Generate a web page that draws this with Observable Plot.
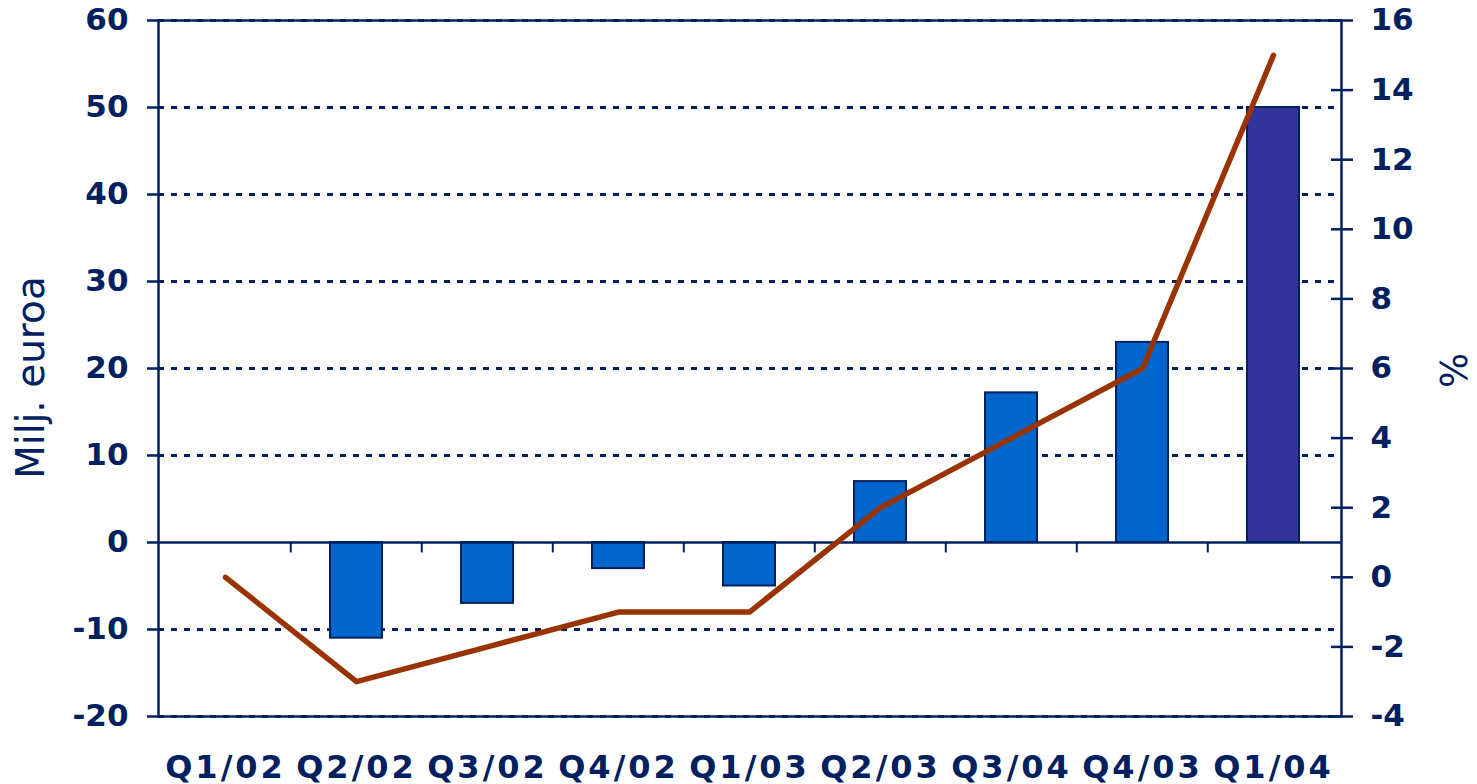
<!DOCTYPE html>
<html><head><meta charset="utf-8">
<script src="https://cdn.jsdelivr.net/npm/d3@7"></script>
<script src="https://cdn.jsdelivr.net/npm/@observablehq/plot@0.6"></script>
<style>
body{margin:0;background:#fff}
svg{font-family:"DejaVu Sans"}
g[aria-label="x-axis tick label"] text{letter-spacing:3px}
</style>
</head><body><div id="chart"></div>
<script>
const quarters = ["Q1/02","Q2/02","Q3/02","Q4/02","Q1/03","Q2/03","Q3/04","Q4/03","Q1/04"];
const barValues = [0,-11,-7,-3,-5,7,17.2,23,50];
const lineValues = [0,-3,-2,-1,-1,2,4,6,15];
const leftTicks = [-20,-10,0,10,20,30,40,50,60];
const rightTicks = [-4,-2,0,2,4,6,8,10,12,14,16];
const gridValues = [-20,-10,10,20,30,40,50,60];
const highlight = "Q1/04";

const navy = "#002060";
const W = 1477, H = 784, mL = 158, mR = 136, mT = 20, mB = 68;
const step = (W - mL - mR) / quarters.length;
// right axis (%) mapped onto left axis: -4..16  ->  -20..60
const toLeft = v => 4 * v - 4;
const fromLeft = y => (y + 4) / 4;

const bars = quarters.map((q, i) => ({q, v: barValues[i], c: q === highlight ? "#333399" : "#0066CC"})).filter(d => d.v !== 0);
const line = quarters.map((q, i) => ({q, p: lineValues[i]}));

const chart = Plot.plot({
  width: W, height: H,
  marginLeft: mL, marginRight: mR, marginTop: mT, marginBottom: mB,
  style: {fontFamily: "DejaVu Sans", color: navy, background: "white", overflow: "visible"},
  x: {type: "band", domain: quarters, paddingInner: 0.6, paddingOuter: 0.3, axis: null},
  y: {domain: [-20, 60], axis: null},
  color: {type: "identity"},
  marks: [
    Plot.ruleY(gridValues, {stroke: navy, strokeWidth: 3, strokeDasharray: "6,7"}),
    Plot.barY(bars, {x: "q", y: "v", fill: "c", stroke: navy, strokeWidth: 2}),
    Plot.ruleY([0], {stroke: navy, strokeWidth: 2.5}),
    Plot.ruleX(quarters.slice(1), {x: d => d, y1: 0, y2: -1.2, dx: -step / 2, stroke: navy, strokeWidth: 2}),
    Plot.frame({stroke: navy, strokeWidth: 2.5}),
    Plot.line(line, {x: "q", y: d => toLeft(d.p), stroke: "#993300", strokeWidth: 5.5, strokeLinecap: "round", strokeLinejoin: "round"}),
    Plot.axisX({anchor: "bottom", tickSize: 0, tickPadding: 39, fontSize: 32, fontWeight: "bold", fill: navy, label: null}),
    Plot.axisY(leftTicks, {anchor: "left", tickSize: 11, tickPadding: 19, strokeWidth: 2.5, stroke: navy, fontSize: 31, fontWeight: "bold", fill: navy, tickFormat: d => String(d), label: null}),
    Plot.axisY(rightTicks.map(toLeft), {anchor: "right", tickSize: 22, dx: -11, tickPadding: 18, strokeWidth: 2.5, stroke: navy, fontSize: 31, fontWeight: "bold", fill: navy, tickFormat: d => String(fromLeft(d)), label: null}),
    Plot.text(["Milj. euroa"], {frameAnchor: "left", textAnchor: "middle", dx: -127, dy: 9, rotate: -90, fontSize: 39, fill: navy}),
    Plot.text(["%"], {frameAnchor: "right", textAnchor: "middle", dx: 114, dy: 2, rotate: -90, fontSize: 37, fill: navy})
  ]
});
document.getElementById("chart").append(chart);
</script>
</body></html>
